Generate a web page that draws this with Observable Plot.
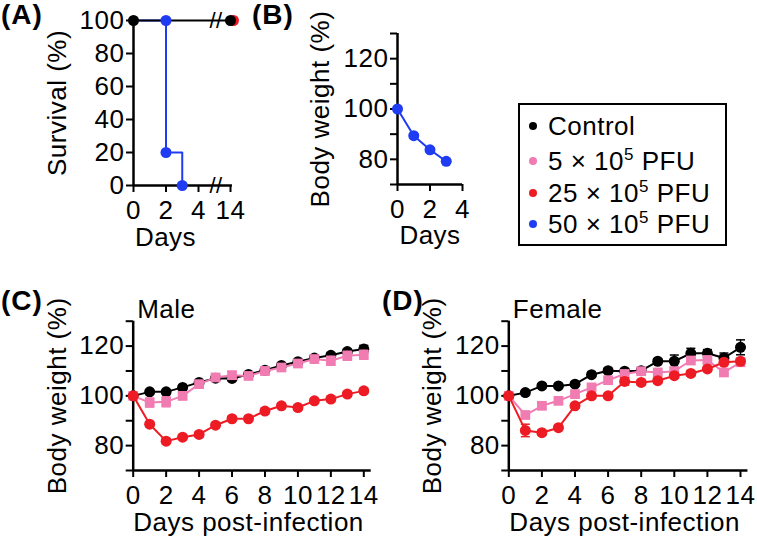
<!DOCTYPE html>
<html>
<head>
<meta charset="utf-8">
<script src="https://cdn.jsdelivr.net/npm/d3@7"></script>
<script src="https://cdn.jsdelivr.net/npm/@observablehq/plot@0.6"></script>
<style>
  html, body { margin: 0; padding: 0; background: #fff; }
  #fig { position: relative; width: 757px; height: 543px; overflow: hidden; font-family: "Liberation Sans", Arial, sans-serif; color: #000; }
  .panel { position: absolute; }
  .panel svg { overflow: visible; max-width: none; }
  .plab { position: absolute; font-weight: bold; font-size: 28px; letter-spacing: 1px; line-height: 1; }
  #legend { position: absolute; left: 518px; top: 103px; width: 205px; height: 139px; border: 2.5px solid #000; }
  .lrow { position: absolute; left: 0; font-size: 26px; letter-spacing: 0.5px; line-height: 1; white-space: nowrap; }
  .ldot { position: absolute; width: 8px; height: 8px; border-radius: 50%; }
  .ltxt { position: absolute; left: 28px; }
  .ltxt sup { font-size: 17px; position: relative; top: -2px; vertical-align: top; }
</style>
</head>
<body>
<div id="fig"></div>
<script>
// ---------- data ----------
const groups = ["Control", "5 × 10^5 PFU", "25 × 10^5 PFU", "50 × 10^5 PFU"];
const groupColors = ["#000000", "#f07cb2", "#ed1c24", "#1f3cf2"];
const legendMain = ["Control", "5 × 10", "25 × 10", "50 × 10"];
const legendSup = ["", "5", "5", "5"];
const legendTail = ["", " PFU", " PFU", " PFU"];

// (A) survival
const survCtrlDays = [0, 14];
const survCtrl = [100, 100];
const survPinkDays = [14];
const survPink = [100];
const survRedDays = [14];
const survRed = [100];
const survBlueDays = [0, 2, 2, 3];
const survBlue = [100, 100, 20, 0];
const survXTicks = [0, 2, 4, 14];
const survYTicks = [0, 20, 40, 60, 80, 100];

// (B) body weight, 50e5 PFU
const bDays = [0, 1, 2, 3];
const bBlue = [100, 89.4, 83.8, 79.2];
const bBlueErr = [0, 0.8, 0.8, 0.6];
const bXTicks = [0, 2, 4];

// (C)/(D) body weight
const days = [0, 1, 2, 3, 4, 5, 6, 7, 8, 9, 10, 11, 12, 13, 14];
const maleCtrl = [100, 101.6, 101.6, 103.4, 105.4, 107.1, 107.0, 108.6, 110.3, 112.2, 113.7, 115.2, 116.3, 117.8, 118.8];
const maleCtrlErr = [0, 0.5, 0.5, 0.8, 0.8, 0.8, 0.8, 0.8, 1, 1, 1, 1, 1, 1, 1.5];
const malePink = [100, 97.3, 97.6, 100.0, 104.7, 107.4, 108.3, 108.0, 110.0, 111.4, 113.0, 114.8, 114.1, 116.1, 116.5];
const malePinkErr = [0, 1.8, 2.0, 1.5, 1.2, 1.0, 1.5, 1.2, 1.5, 1.2, 1.5, 1.2, 1.8, 1.8, 1.8];
const maleRed = [100, 88.6, 81.8, 83.4, 84.5, 88.2, 90.8, 90.8, 93.9, 96.0, 95.3, 98.0, 98.7, 100.7, 102.0];
const maleRedErr = [0, 1, 1, 1, 1, 1, 1, 1, 1, 1, 1, 1, 1, 1, 1];

const femCtrl = [100, 101.3, 104.0, 104.0, 104.7, 108.5, 110.1, 109.9, 110.1, 113.9, 113.9, 117.1, 117.1, 115.2, 119.5];
const femCtrlErr = [0, 0.5, 0.8, 0.8, 0.8, 1, 1, 1, 1, 1, 2.5, 2, 1.5, 2, 3];
const femPink = [100, 92.3, 96.0, 98.0, 100.7, 103.4, 106.3, 108.8, 109.9, 109.4, 109.9, 114.2, 114.4, 109.4, 113.5];
const femPinkErr = [0, 1.2, 1, 1, 1, 1, 1, 1, 1, 1, 1, 1.5, 1.5, 1, 1];
const femRed = [100, 86.1, 85.2, 87.2, 96.0, 100.0, 100.0, 105.8, 105.4, 106.1, 108.1, 109.0, 110.8, 113.5, 113.9];
const femRedErr = [0, 2.5, 1, 1, 1, 1, 1, 1.5, 1, 1, 1, 1, 1, 1, 1];

const bwTicks = [70, 80, 90, 100, 110, 120, 130];
const bwLabeled = [80, 100, 120];
const dayTicks = [0, 2, 4, 6, 8, 10, 12, 14];

// ---------- helpers ----------
const FONT = '"Liberation Sans", Arial, sans-serif';
const FS = 26;
const R = 5.5;
const rows = (ds, vals, errs, group) => ds.map((d, i) => ({day: d, w: vals[i], e: errs ? errs[i] : 0, group}));
const colorScale = {domain: groups, range: groupColors};
const cap = {draw(ctx, size) { const w = Math.sqrt(size / Math.PI); ctx.moveTo(-w, 0); ctx.lineTo(w, 0); }};
const style = {fontSize: FS + "px", fontFamily: FONT, color: "#000", background: "transparent", overflow: "visible", letterSpacing: "0.5px"};
const fmt = d => String(d);
const fig = document.getElementById("fig");

function place(node, left, top) {
  const d = document.createElement("div");
  d.className = "panel";
  d.style.left = left + "px";
  d.style.top = top + "px";
  d.appendChild(node);
  fig.appendChild(d);
}
function label(txt, left, top) {
  const d = document.createElement("div");
  d.className = "plab";
  d.textContent = txt;
  d.style.left = left + "px";
  d.style.top = top + "px";
  fig.appendChild(d);
}
function seriesMarks(data, shapes) {
  const out = [];
  for (const g of groups) {
    const sub = data.filter(r => r.group === g);
    if (!sub.length) continue;
    out.push(Plot.line(sub, {x: "day", y: "w", stroke: "group", strokeWidth: 2}));
    const eb = sub.filter(r => r.e > 0);
    out.push(Plot.ruleX(eb, {x: "day", y1: r => r.w - r.e, y2: r => r.w + r.e, stroke: "group", strokeWidth: 1.5}));
    out.push(Plot.dot(eb, {x: "day", y: r => r.w + r.e, symbol: cap, r: 4.5, fill: "none", stroke: "group", strokeWidth: 1.5}));
    out.push(Plot.dot(eb, {x: "day", y: r => r.w - r.e, symbol: cap, r: 4.5, fill: "none", stroke: "group", strokeWidth: 1.5}));
    out.push(Plot.dot(sub, {x: "day", y: "w", r: R, fill: "group", stroke: null, symbol: shapes[g] || "circle"}));
  }
  return out;
}
const yTitle = (t, dx) => Plot.text([t], {frameAnchor: "left", dx, rotate: -90, textAnchor: "middle", fontSize: FS});
const XT_DY = 60;

// ---------- (A) ----------
const aCtrl = rows(survCtrlDays, survCtrl, null, groups[0]);
const aPink = rows(survPinkDays, survPink, null, groups[1]);
const aRed = rows(survRedDays, survRed, null, groups[2]);
const aBlue = rows(survBlueDays, survBlue, null, groups[3]);
place(Plot.plot({
  width: 250, height: 250,
  marginLeft: 133, marginTop: 20, marginRight: 20, marginBottom: 65,
  x: {type: "linear", domain: [0, 4, 14], range: [133, 198, 230]},
  y: {domain: [0, 100]},
  color: colorScale,
  style,
  marks: [
    Plot.axisY({ticks: survYTicks, tickFormat: fmt, tickSize: 7, tickPadding: 2, strokeWidth: 2, label: null}),
    Plot.axisX({ticks: survXTicks, tickFormat: fmt, tickSize: 7, tickPadding: 8, strokeWidth: 2, label: null}),
    Plot.line(aBlue, {x: "day", y: "w", stroke: "group", strokeWidth: 2, curve: "step-after"}),
    Plot.ruleY([0], {x1: 0, x2: 14.6, strokeWidth: 2.5}),
    Plot.ruleX([0], {y1: 0, y2: 100, strokeWidth: 2.5}),
    Plot.line(aCtrl, {x: "day", y: "w", stroke: "group", strokeWidth: 2}),
    Plot.text([0, 100], {x: 9.5, y: d => d, text: () => "//", fontSize: 22, fill: "#000"}),
    Plot.dot(aBlue.slice(1), {x: "day", y: "w", r: R, fill: "group"}),
    Plot.dot(aPink, {x: "day", y: "w", r: R, fill: "group", dx: 2}),
    Plot.dot(aRed, {x: "day", y: "w", r: R, fill: "group", dx: 3}),
    Plot.dot(aCtrl, {x: "day", y: "w", r: R, fill: "group"}),
    yTitle("Survival (%)", -76),
    Plot.text(["Days"], {frameAnchor: "bottom-left", dx: 32, dy: XT_DY, textAnchor: "middle", fontSize: FS})
  ]
}), 0, 0);

// ---------- (B) ----------
const bData = rows(bDays, bBlue, bBlueErr, groups[3]);
place(Plot.plot({
  width: 230, height: 250,
  marginLeft: 147, marginTop: 33, marginRight: 18, marginBottom: 66,
  x: {domain: [0, 4]},
  y: {domain: [70, 130]},
  color: colorScale,
  style,
  marks: [
    Plot.axisY({ticks: bwTicks, tickFormat: d => bwLabeled.includes(d) ? String(d) : "", tickSize: 7, tickPadding: 2, strokeWidth: 2, label: null}),
    Plot.axisX({ticks: bXTicks, tickFormat: fmt, tickSize: 7, tickPadding: 8, strokeWidth: 2, label: null}),
    Plot.ruleY([70], {x1: 0, x2: 4, strokeWidth: 2.5}),
    Plot.ruleX([0], {y1: 70, y2: 130, strokeWidth: 2.5}),
    ...seriesMarks(bData, {}),
    yTitle("Body weight (%)", -77),
    Plot.text(["Days"], {frameAnchor: "bottom", dy: XT_DY - 1, fontSize: FS})
  ]
}), 250, 0);

// ---------- (C) & (D) ----------
function bwPanel(ctrl, ctrlE, pink, pinkE, red, redE, title, left, axisX, endX) {
  const data = [
    ...rows(days, ctrl, ctrlE, groups[0]),
    ...rows(days, pink, pinkE, groups[1]),
    ...rows(days, red, redE, groups[2])
  ];
  const W = 380;
  const mL = axisX - left;
  const mR = W - (mL + (endX - axisX));
  return Plot.plot({
    width: W, height: 273,
    marginLeft: mL, marginTop: 50.7, marginRight: mR, marginBottom: 73,
    x: {domain: [0, 14]},
    y: {domain: [70, 130]},
    color: colorScale,
    style,
    marks: [
      Plot.axisY({ticks: bwTicks, tickFormat: d => bwLabeled.includes(d) ? String(d) : "", tickSize: 7, tickPadding: 2, strokeWidth: 2, label: null}),
      Plot.axisX({ticks: dayTicks, tickFormat: fmt, tickSize: 7, tickPadding: 8, strokeWidth: 2, label: null}),
      Plot.ruleY([70], {x1: 0, x2: 14.45, strokeWidth: 2.5}),
      Plot.ruleX([0], {y1: 70, y2: 130, strokeWidth: 2.5}),
      ...seriesMarks(data, {[groups[1]]: "square"}),
      yTitle("Body weight (%)", -76),
      Plot.text(["Days post-infection"], {frameAnchor: "bottom", dy: XT_DY, fontSize: FS}),
      Plot.text([title], {frameAnchor: "top-left", dx: 4, dy: -22, textAnchor: "start", fontSize: FS})
    ]
  });
}
place(bwPanel(maleCtrl, maleCtrlErr, malePink, malePinkErr, maleRed, maleRedErr, "Male", 0, 132.7, 363.3), 0, 270);
place(bwPanel(femCtrl, femCtrlErr, femPink, femPinkErr, femRed, femRedErr, "Female", 380, 508.3, 740), 380, 270);

// ---------- panel labels ----------
label("(A)", 1, 1);
label("(B)", 252, 1);
label("(C)", 1, 287);
label("(D)", 382, 287);

// ---------- legend ----------
const lg = document.createElement("div");
lg.id = "legend";
const rowY = [20, 55, 87, 118];
groups.forEach((g, i) => {
  const r = document.createElement("div");
  r.className = "lrow";
  r.style.top = (rowY[i] - 12) + "px";
  const dot = document.createElement("div");
  dot.className = "ldot";
  dot.style.background = groupColors[i];
  dot.style.left = "9px";
  dot.style.top = "9px";
  const t = document.createElement("div");
  t.className = "ltxt";
  t.textContent = legendMain[i];
  if (legendSup[i]) {
    const s = document.createElement("sup");
    s.textContent = legendSup[i];
    t.appendChild(s);
    t.appendChild(document.createTextNode(legendTail[i]));
  }
  r.appendChild(dot);
  r.appendChild(t);
  lg.appendChild(r);
});
fig.appendChild(lg);
</script>
</body>
</html>
